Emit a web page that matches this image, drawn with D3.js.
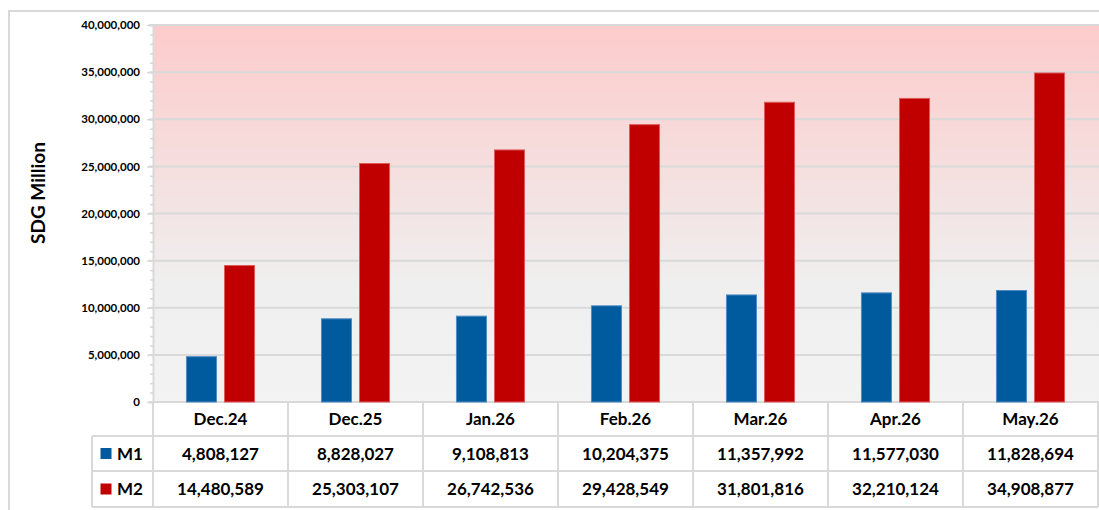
<!DOCTYPE html>
<html>
<head>
<meta charset="utf-8">
<script src="https://cdn.jsdelivr.net/npm/d3@7"></script>
<style>
  body { margin: 0; background: #fff; }
  svg { display: block; font-family: Lato, "Open Sans", sans-serif; }
</style>
</head>
<body>
<svg width="1099" height="510"></svg>
<script>
var categories = ["Dec.24", "Dec.25", "Jan.26", "Feb.26", "Mar.26", "Apr.26", "May.26"];
var seriesNames = ["M1", "M2"];
var m1 = [4808127, 8828027, 9108813, 10204375, 11357992, 11577030, 11828694];
var m2 = [14480589, 25303107, 26742536, 29428549, 31801816, 32210124, 34908877];
var yTicks = [0, 5000000, 10000000, 15000000, 20000000, 25000000, 30000000, 35000000, 40000000];

var colors = {M1: "#005a9e", M2: "#c00000"};
var strokes = {M1: "#4f8cc4", M2: "#e05a5a"};

var svg = d3.select("svg"),
    margin = {top: 25, left: 153, right: 1098, bottom: 402};

var fmt = d3.format(",");

var x0 = d3.scaleBand().domain(categories).range([margin.left, margin.right]).padding(0);
var x1 = d3.scaleBand().domain(seriesNames).range([0, x0.bandwidth()])
    .paddingInner(8 / 38).paddingOuter(0.88);
var y = d3.scaleLinear().domain([0, 40000000]).range([margin.bottom, margin.top]);

// outer chart frame
svg.append("path")
    .attr("d", "M9,510 V11 H1099")
    .attr("fill", "none")
    .attr("stroke", "#d9d9d9")
    .attr("stroke-width", 2);

// plot background gradient
var defs = svg.append("defs");
var grad = defs.append("linearGradient")
    .attr("id", "bg").attr("x1", 0).attr("y1", 0).attr("x2", 0).attr("y2", 1);
grad.append("stop").attr("offset", "0%").attr("stop-color", "#fdcbcb");
grad.append("stop").attr("offset", "35%").attr("stop-color", "#f6dddd");
grad.append("stop").attr("offset", "70%").attr("stop-color", "#efefef");
grad.append("stop").attr("offset", "100%").attr("stop-color", "#f3f3f3");

svg.append("rect")
    .attr("x", margin.left)
    .attr("y", margin.top)
    .attr("width", 1099 - margin.left)
    .attr("height", margin.bottom - margin.top)
    .attr("fill", "url(#bg)");

// gridlines
svg.append("g").selectAll("line")
    .data(yTicks)
    .enter().append("line")
    .attr("x1", margin.left - 4)
    .attr("x2", 1099)
    .attr("y1", function(d) { return y(d); })
    .attr("y2", function(d) { return y(d); })
    .attr("stroke", "#d9d9d9")
    .attr("stroke-width", 2);

// y axis with minor ticks
var yAxis = svg.append("g")
    .attr("transform", "translate(" + margin.left + ",0)");
yAxis.call(d3.axisLeft(y).tickValues(d3.range(0, 40000001, 1000000)).tickSize(3).tickFormat(""));
yAxis.select(".domain").attr("stroke", "#d9d9d9").attr("stroke-width", 2);
yAxis.selectAll(".tick line").attr("stroke", "#d9d9d9").attr("stroke-width", 1.5);

var yLabels = svg.append("g")
    .attr("transform", "translate(" + margin.left + ",0)")
    .call(d3.axisLeft(y).tickValues(yTicks).tickSize(6).tickPadding(7).tickFormat(fmt));
yLabels.select(".domain").remove();
yLabels.selectAll(".tick line").attr("stroke", "#d9d9d9").attr("stroke-width", 1.5);
yLabels.selectAll(".tick text")
    .attr("fill", "#000")
    .style("font-family", "Lato, sans-serif")
    .style("font-weight", "bold")
    .style("font-size", "11.5px");

// y axis title
svg.append("text")
    .attr("transform", "translate(45,193) rotate(-90)")
    .attr("text-anchor", "middle")
    .style("font-weight", "bold")
    .style("font-size", "19px")
    .text("SDG Million");

// bars
var rows = categories.map(function(c, i) { return {cat: c, M1: m1[i], M2: m2[i]}; });

var groups = svg.append("g").selectAll("g")
    .data(rows)
    .enter().append("g")
    .attr("transform", function(d) { return "translate(" + x0(d.cat) + ",0)"; });

groups.selectAll("rect")
    .data(function(d) { return seriesNames.map(function(k) { return {key: k, value: d[k]}; }); })
    .enter().append("rect")
    .attr("x", function(d) { return x1(d.key); })
    .attr("width", x1.bandwidth())
    .attr("y", function(d) { return y(d.value); })
    .attr("height", function(d) { return y(0) - y(d.value); })
    .attr("fill", function(d) { return colors[d.key]; })
    .attr("stroke", function(d) { return strokes[d.key]; })
    .attr("stroke-width", 1);

// data table
var rowTop = [402, 436, 471, 507];
var table = svg.append("g");
var lineColor = "#d9d9d9";

// horizontal lines
table.append("line").attr("x1", 92).attr("x2", margin.right).attr("y1", rowTop[1]).attr("y2", rowTop[1]);
table.append("line").attr("x1", 92).attr("x2", margin.right).attr("y1", rowTop[2]).attr("y2", rowTop[2]);
table.append("line").attr("x1", 92).attr("x2", margin.right).attr("y1", rowTop[3]).attr("y2", rowTop[3]);
// vertical lines
var colEdges = categories.map(function(c) { return x0(c); }).concat([margin.right]);
table.selectAll(".vline")
    .data(colEdges)
    .enter().append("line")
    .attr("class", "vline")
    .attr("x1", function(d) { return d; })
    .attr("x2", function(d) { return d; })
    .attr("y1", rowTop[0])
    .attr("y2", rowTop[3]);
table.append("line").attr("x1", 92).attr("x2", 92).attr("y1", rowTop[1]).attr("y2", rowTop[3]);
table.selectAll("line").attr("stroke", lineColor).attr("stroke-width", 2);

// header
table.selectAll(".hdr")
    .data(categories)
    .enter().append("text")
    .attr("class", "hdr")
    .attr("x", function(d) { return x0(d) + x0.bandwidth() / 2; })
    .attr("y", (rowTop[0] + rowTop[1]) / 2)
    .attr("dy", "0.36em")
    .attr("text-anchor", "middle")
    .style("font-weight", "bold")
    .style("font-size", "17px")
    .text(function(d) { return d; });

// series rows
[m1, m2].forEach(function(vals, r) {
  var key = seriesNames[r];
  var cy = (rowTop[r + 1] + rowTop[r + 2]) / 2;
  table.append("rect")
      .attr("x", 100.5)
      .attr("y", cy - 5.5)
      .attr("width", 11)
      .attr("height", 11)
      .attr("fill", colors[key]);
  table.append("text")
      .attr("x", 117)
      .attr("y", cy)
      .attr("dy", "0.36em")
      .style("font-weight", "bold")
      .style("font-size", "17px")
      .text(key);
  table.selectAll(".v" + r)
      .data(vals)
      .enter().append("text")
      .attr("class", "v" + r)
      .attr("x", function(d, i) { return x0(categories[i]) + x0.bandwidth() / 2; })
      .attr("y", cy)
      .attr("dy", "0.36em")
      .attr("text-anchor", "middle")
      .style("font-weight", "bold")
      .style("font-size", "17px")
      .text(function(d) { return fmt(d); });
});
</script>
</body>
</html>
